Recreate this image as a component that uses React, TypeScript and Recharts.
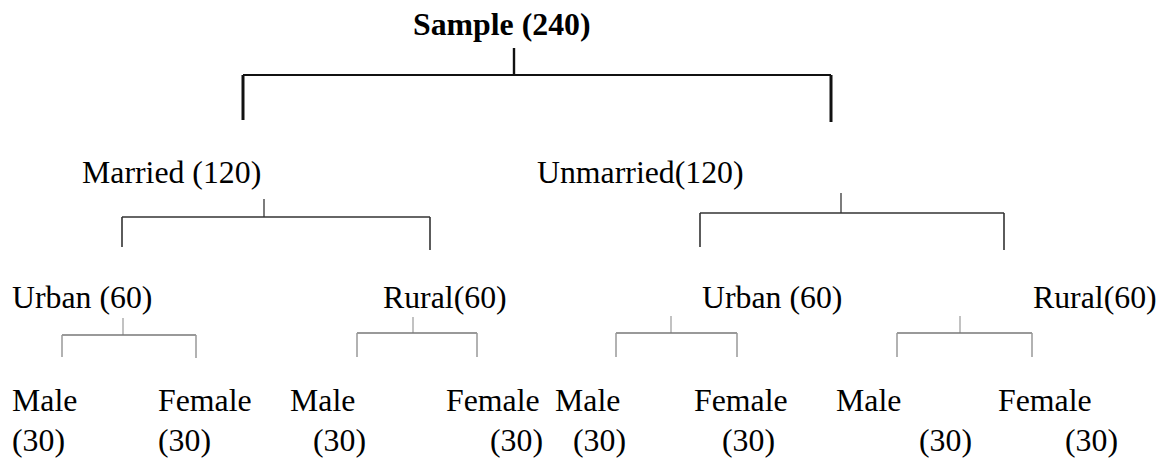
import React from "react";
import { ComposedChart, XAxis, YAxis, Scatter, ReferenceLine } from "recharts";

const W = 1162;
const H = 458;

// ---- labels / values ----
const rootName = "Sample";
const rootCount = 240;
const maritalNames = ["Married ", "Unmarried"];
const maritalCounts = [120, 120];
const areaNames = ["Urban ", "Rural", "Urban ", "Rural"];
const areaCounts = [60, 60, 60, 60];
const genderNames = ["Male", "Female", "Male", "Female", "Male", "Female", "Male", "Female"];
const genderCounts = [30, 30, 30, 30, 30, 30, 30, 30];

// ---- layout (diagram positions in pixel units of the axis domain) ----
const rootPos = { x: 413, y: 35 };
const maritalPos = [
  { x: 82, y: 183 },
  { x: 537, y: 183 },
];
const areaX = [12, 383, 702, 1033];
const areaY = 308;
const genderNameX = [12, 158, 290, 446, 555, 694, 836, 998];
const genderNameY = 411;
const genderCountX = [12, 158, 313, 490, 573, 722, 919, 1065];
const genderCountY = 451;

type Bracket = {
  stub: number; top: number; bar: number; left: number; right: number;
  lb: number; rb: number; color: string; bw: number; vw: number; vcolor: string;
};
const brackets: Bracket[] = [
  { stub: 514, top: 48, bar: 75, left: 243, right: 831, lb: 120, rb: 122, color: "#111", bw: 2, vw: 3, vcolor: "#111" },
  { stub: 264, top: 199, bar: 217, left: 122, right: 430, lb: 247, rb: 250, color: "#333", bw: 1.5, vw: 1.6, vcolor: "#333" },
  { stub: 841, top: 193, bar: 213, left: 700, right: 1004, lb: 247, rb: 250, color: "#333", bw: 1.5, vw: 1.6, vcolor: "#333" },
  { stub: 123, top: 318, bar: 335, left: 62, right: 196, lb: 357, rb: 358, color: "#777", bw: 1.5, vw: 1.5, vcolor: "#999" },
  { stub: 413, top: 317, bar: 333, left: 357, right: 477, lb: 357, rb: 357, color: "#777", bw: 1.5, vw: 1.5, vcolor: "#999" },
  { stub: 671, top: 316, bar: 333, left: 616, right: 737, lb: 357, rb: 357, color: "#777", bw: 1.5, vw: 1.5, vcolor: "#999" },
  { stub: 960, top: 316, bar: 333, left: 897, right: 1032, lb: 357, rb: 357, color: "#777", bw: 1.5, vw: 1.5, vcolor: "#999" },
];

const FONT = "'Liberation Serif', 'Times New Roman', serif";
const SIZE = 31.8;

const textData = [
  { x: rootPos.x, y: rootPos.y, label: `${rootName} (${rootCount})`, bold: true },
  ...maritalPos.map((p, i) => ({ x: p.x, y: p.y, label: `${maritalNames[i]}(${maritalCounts[i]})`, bold: false })),
  ...areaX.map((x, i) => ({ x, y: areaY, label: `${areaNames[i]}(${areaCounts[i]})`, bold: false })),
  ...genderNameX.map((x, i) => ({ x, y: genderNameY, label: genderNames[i], bold: false })),
  ...genderCountX.map((x, i) => ({ x, y: genderCountY, label: `(${genderCounts[i]})`, bold: false })),
];

const TextShape = (props: any) => {
  const { cx, cy, payload } = props;
  return (
    <text
      x={cx}
      y={cy}
      textAnchor="start"
      fontFamily={FONT}
      fontSize={SIZE}
      fontWeight={payload.bold ? "bold" : "normal"}
      fill="#000"
    >
      {payload.label}
    </text>
  );
};

export default function App() {
  const lines: React.ReactNode[] = [];
  brackets.forEach((b, i) => {
    lines.push(
      <ReferenceLine key={`s${i}`} segment={[{ x: b.stub, y: b.top }, { x: b.stub, y: b.bar }]} stroke={b.vcolor} strokeWidth={b.vw * 0.8} ifOverflow="visible" />,
      <ReferenceLine key={`h${i}`} segment={[{ x: b.left, y: b.bar }, { x: b.right, y: b.bar }]} stroke={b.color} strokeWidth={b.bw} ifOverflow="visible" />,
      <ReferenceLine key={`l${i}`} segment={[{ x: b.left, y: b.bar }, { x: b.left, y: b.lb }]} stroke={b.vcolor} strokeWidth={b.vw} ifOverflow="visible" />,
      <ReferenceLine key={`r${i}`} segment={[{ x: b.right, y: b.bar }, { x: b.right, y: b.rb }]} stroke={b.vcolor} strokeWidth={b.vw} ifOverflow="visible" />
    );
  });
  return (
    <div style={{ position: "absolute", left: 0, top: 0, width: W, height: H, background: "#fff" }}>
      <ComposedChart width={W} height={H} margin={{ top: 0, right: 0, bottom: 0, left: 0 }}>
        <XAxis type="number" dataKey="x" domain={[0, W]} hide allowDataOverflow />
        <YAxis type="number" dataKey="y" domain={[0, H]} reversed hide allowDataOverflow />
        {lines}
        <Scatter data={textData} dataKey="y" shape={TextShape} isAnimationActive={false} />
      </ComposedChart>
    </div>
  );
}
